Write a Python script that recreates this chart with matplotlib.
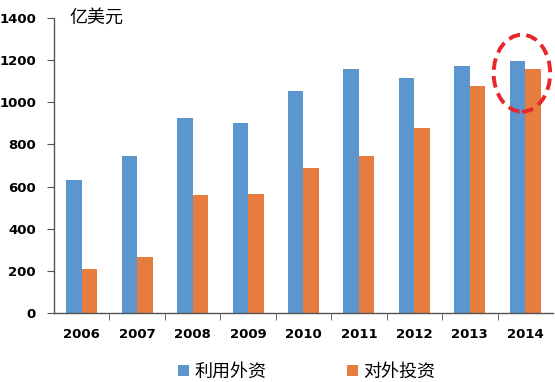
import matplotlib
matplotlib.use("Agg")
import matplotlib.pyplot as plt
import matplotlib.patches as patches
import numpy as np

plt.rcParams['font.family'] = ['Noto Sans CJK SC', 'DejaVu Sans']

years = ['2006', '2007', '2008', '2009', '2010', '2011', '2012', '2013', '2014']
use_foreign = [631, 747, 924, 900, 1055, 1160, 1117, 1174, 1195]
invest_out = [210, 264, 559, 563, 687, 745, 877, 1077, 1160]
series_names = ['利用外资', '对外投资']
unit = '亿美元'

fig = plt.figure(figsize=(5.55, 3.82), dpi=100)
ax = fig.add_axes([0.0973, 0.1806, 0.899, 0.7723])

x = np.arange(len(years))
w = 0.28
ax.bar(x - w / 2, use_foreign, w, color='#5B96CF', label=series_names[0])
ax.bar(x + w / 2, invest_out, w, color='#E67C3D', label=series_names[1])

ax.set_xlim(-0.5, len(years) - 0.5)
ax.set_ylim(0, 1400)
ax.set_yticks(np.arange(0, 1401, 200))
ax.set_xticks(x)
ax.set_xticklabels(years, fontsize=9.5, fontweight='bold', family='DejaVu Sans')
ax.set_xticks(np.arange(0.5, len(years) - 0.5, 1), minor=True)
ax.tick_params(axis='x', which='major', length=0, pad=11)
ax.tick_params(axis='x', which='minor', length=5, direction='out', color='#555555')
ax.tick_params(axis='y', length=5, direction='out', color='#555555', pad=8)
for lab in ax.get_yticklabels():
    lab.set_fontweight('bold')
    lab.set_fontsize(9.5)
    lab.set_family('DejaVu Sans')

for s in ['top', 'right']:
    ax.spines[s].set_visible(False)
for s in ['left', 'bottom']:
    ax.spines[s].set_color('#555555')
    ax.spines[s].set_linewidth(1.0)

ax.text(0.03, 1.0, unit, transform=ax.transAxes, fontsize=13, va='center', ha='left')

# red dashed ellipse around 2014
e = patches.Ellipse((7.94, 1138), 1.02, 365, fill=False, edgecolor='#E8262B',
                    linewidth=2.8, linestyle=(0, (3, 1.6)), clip_on=False)
ax.add_patch(e)

fig.legend(loc='lower center', bbox_to_anchor=(0.553, -0.04), ncol=2, frameon=False,
           fontsize=13, handlelength=0.6, handleheight=0.6, handletextpad=0.3,
           columnspacing=4.45)

fig.savefig('out.png')
